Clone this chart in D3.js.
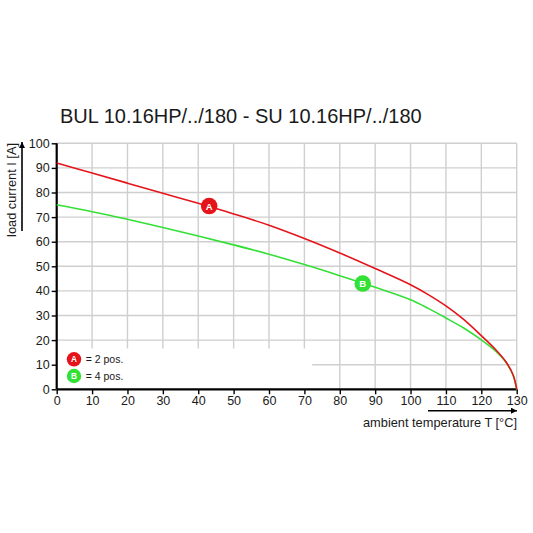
<!DOCTYPE html>
<html>
<head>
<meta charset="utf-8">
<script src="https://cdn.jsdelivr.net/npm/d3@7"></script>
<style>
  body { margin: 0; background: #fff; }
  text { font-family: "Liberation Sans", Arial, sans-serif; fill: #1a1a1a; }
</style>
</head>
<body>
<div id="chart"></div>
<script>
// values
var temps = [0, 10, 20, 30, 40, 50, 60, 70, 80, 90, 100, 105, 110, 115, 120, 124, 127, 129, 130];
var currentA = [92, 87.9, 83.8, 79.7, 75.6, 71.3, 66.7, 61.3, 55.4, 49.1, 42.5, 38.5, 33.9, 28.4, 21.8, 16.2, 11.1, 5.8, 0];
var currentB = [75, 72.2, 69.1, 65.8, 62.3, 58.7, 54.9, 50.7, 46.2, 41.5, 36.4, 32.9, 29, 24.9, 20.1, 15.6, 10.9, 5.6, 0];
var markerA = {t: 43.1, i: 74.5, label: "A"};
var markerB = {t: 86.5, i: 43, label: "B"};
var xTicks = d3.range(0, 131, 10);
var yTicks = d3.range(0, 101, 10);
var legend = [
  {label: "A", text: "= 2 pos."},
  {label: "B", text: "= 4 pos."}
];

var colorA = "#e5141b";
var colorB = "#33e035";

var svgWidth = 533;
var svgHeight = 533;

var margin = {top: 143.3, left: 56.7};
var width = 460;
var height = 246;

var svg = d3.select("#chart")
  .append("svg")
  .attr("width", svgWidth)
  .attr("height", svgHeight);

var chartGroup = svg.append("g")
  .attr("transform", `translate(${margin.left}, ${margin.top})`);

var x = d3.scaleLinear().domain([0, 130]).range([0, width]);
var y = d3.scaleLinear().domain([0, 100]).range([height, 0]);

// grid
chartGroup.append("g")
  .selectAll("line")
  .data(xTicks.slice(1))
  .enter()
  .append("line")
  .attr("x1", d => x(d)).attr("x2", d => x(d))
  .attr("y1", 0).attr("y2", height)
  .attr("stroke", "#cfcfcf")
  .attr("stroke-width", 1.4);

chartGroup.append("g")
  .selectAll("line")
  .data(yTicks.slice(1))
  .enter()
  .append("line")
  .attr("x1", 0).attr("x2", width)
  .attr("y1", d => y(d)).attr("y2", d => y(d))
  .attr("stroke", "#cfcfcf")
  .attr("stroke-width", 1.4);

// white box behind legend
chartGroup.append("rect")
  .attr("x", 0)
  .attr("y", y(16.6))
  .attr("width", x(72.2))
  .attr("height", height - y(16.6))
  .attr("fill", "#fff");

// axes
var bottomAxis = d3.axisBottom(x).tickValues(xTicks).tickSize(5).tickPadding(2);
var leftAxis = d3.axisLeft(y).tickValues(yTicks).tickSize(5).tickPadding(2);

var xAxis = chartGroup.append("g")
  .attr("transform", `translate(0, ${height})`)
  .call(bottomAxis);

var yAxis = chartGroup.append("g")
  .call(leftAxis);

[xAxis, yAxis].forEach(function(g) {
  g.select(".domain").attr("stroke", "#000").attr("stroke-width", 2.2);
  g.selectAll(".tick line").attr("stroke", "#000").attr("stroke-width", 1.4);
  g.selectAll(".tick text")
    .attr("font-size", "12.5px")
    .attr("font-family", "Liberation Sans, Arial, sans-serif")
    .attr("fill", "#1a1a1a");
});
xAxis.select(".domain").attr("d", `M0,0H${width}`);
yAxis.select(".domain").attr("d", `M0,0V${height}`);

// curves
var line = d3.line()
  .x(d => x(d[0]))
  .y(d => y(d[1]))
  .curve(d3.curveCatmullRom.alpha(0.5));

chartGroup.append("path")
  .datum(temps.map((t, k) => [t, currentB[k]]))
  .attr("d", line)
  .attr("fill", "none")
  .attr("stroke", colorB)
  .attr("stroke-width", 1.6);

chartGroup.append("path")
  .datum(temps.map((t, k) => [t, currentA[k]]))
  .attr("d", line)
  .attr("fill", "none")
  .attr("stroke", colorA)
  .attr("stroke-width", 1.6);

// curve markers
function badge(g, cx, cy, r, label, color) {
  g.append("circle")
    .attr("cx", cx).attr("cy", cy).attr("r", r)
    .attr("fill", color);
  g.append("text")
    .attr("x", cx).attr("y", cy + r * 0.42)
    .attr("text-anchor", "middle")
    .attr("font-size", (r * 1.15) + "px")
    .attr("font-weight", "bold")
    .style("fill", "#fff")
    .text(label);
}

badge(chartGroup, x(markerA.t), y(markerA.i), 8.3, markerA.label, colorA);
badge(chartGroup, x(markerB.t), y(markerB.i), 8.3, markerB.label, colorB);

// legend
legend.forEach(function(d, k) {
  var cy = 359.3 - margin.top + k * 16.7;
  badge(chartGroup, 17.3, cy, 7.2, d.label, k === 0 ? colorA : colorB);
  chartGroup.append("text")
    .attr("x", 29)
    .attr("y", cy + 3.8)
    .attr("font-size", "10.5px")
    .text(d.text);
});

// title
svg.append("text")
  .attr("x", 60)
  .attr("y", 123)
  .attr("font-size", "20px")
  .text("BUL 10.16HP/../180 - SU 10.16HP/../180");

// arrows
var defs = svg.append("defs");
defs.append("marker")
  .attr("id", "arrow")
  .attr("viewBox", "0 0 10 10")
  .attr("refX", 10).attr("refY", 5)
  .attr("markerWidth", 6).attr("markerHeight", 6)
  .attr("markerUnits", "userSpaceOnUse")
  .attr("orient", "auto")
  .append("path")
  .attr("d", "M0,0L10,5L0,10Z")
  .attr("fill", "#000");

svg.append("line")
  .attr("x1", 22).attr("y1", 231)
  .attr("x2", 22).attr("y2", 142)
  .attr("stroke", "#000").attr("stroke-width", 1.6)
  .attr("marker-end", "url(#arrow)");

svg.append("line")
  .attr("x1", 428).attr("y1", 410.7)
  .attr("x2", 517).attr("y2", 410.7)
  .attr("stroke", "#000").attr("stroke-width", 1.6)
  .attr("marker-end", "url(#arrow)");

// axis titles
svg.append("text")
  .attr("transform", "translate(15.5, 143) rotate(-90)")
  .attr("text-anchor", "end")
  .attr("font-size", "12.8px")
  .text("load current I [A]");

svg.append("text")
  .attr("x", 517)
  .attr("y", 426.5)
  .attr("text-anchor", "end")
  .attr("font-size", "12.8px")
  .text("ambient temperature T [°C]");
</script>
</body>
</html>
